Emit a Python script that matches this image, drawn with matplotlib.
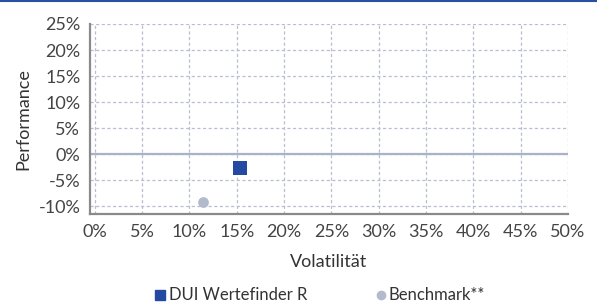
import matplotlib.pyplot as plt
from matplotlib.lines import Line2D

plt.rcParams['font.family'] = ['Lato', 'DejaVu Sans']

names = ['DUI Wertefinder R', 'Benchmark**']
volatility = [15.4, 11.4]
performance = [-2.7, -9.2]
colors = ['#2449a0', '#b3bacb']
markers = ['s', 'o']
sizes = [110, 60]

x_ticks = list(range(0, 55, 5))
y_ticks = list(range(-10, 30, 5))

fig = plt.figure(figsize=(5.97, 3.04), dpi=100)
ax = fig.add_axes([90 / 597, 1 - 214 / 304, 478 / 597, 190 / 304])

ax.set_xlim(-0.5, 50)
ax.set_ylim(-11.5, 25)
ax.set_xticks(x_ticks)
ax.set_yticks(y_ticks)
ax.set_xticklabels([f'{t}%' for t in x_ticks])
ax.set_yticklabels([f'{t}%' for t in y_ticks])
ax.tick_params(length=0, labelsize=13, labelcolor='#444444', pad=7)

ax.grid(True, color='#b9bfd2', linestyle=(0, (2.5, 2)), linewidth=0.9)
ax.axhline(0, color='#aab2c8', linewidth=1.6, zorder=2)

for s in ['top', 'right']:
    ax.spines[s].set_visible(False)
for s in ['left', 'bottom']:
    ax.spines[s].set_color('#8a8a8a')
    ax.spines[s].set_linewidth(1.6)

for vx, vy, c, m, sz in zip(volatility, performance, colors, markers, sizes):
    ax.scatter(vx, vy, color=c, marker=m, s=sz, zorder=3, linewidths=0)

ax.set_xlabel('Volatilität', fontsize=13, color='#333333', labelpad=10)
ax.set_ylabel('Performance', fontsize=13, color='#333333', labelpad=5)

# legend along the bottom edge
leg_y = 1 - 295 / 304
fig.add_artist(Line2D([160 / 597], [leg_y], transform=fig.transFigure,
                      marker='s', markersize=7, color=colors[0], linestyle='none'))
fig.text(169 / 597, leg_y, names[0], color='#333333', fontsize=12,
         ha='left', va='center')
fig.add_artist(Line2D([381 / 597], [leg_y], transform=fig.transFigure,
                      marker='o', markersize=6, color=colors[1], linestyle='none'))
fig.text(389 / 597, leg_y, names[1], color='#333333', fontsize=12,
         ha='left', va='center')

# thin blue line at the top of the figure
fig.add_artist(Line2D([0, 1], [0.998, 0.998], transform=fig.transFigure,
                      color='#2a4ea0', linewidth=1.5))

fig.savefig('out.png', dpi=100)
